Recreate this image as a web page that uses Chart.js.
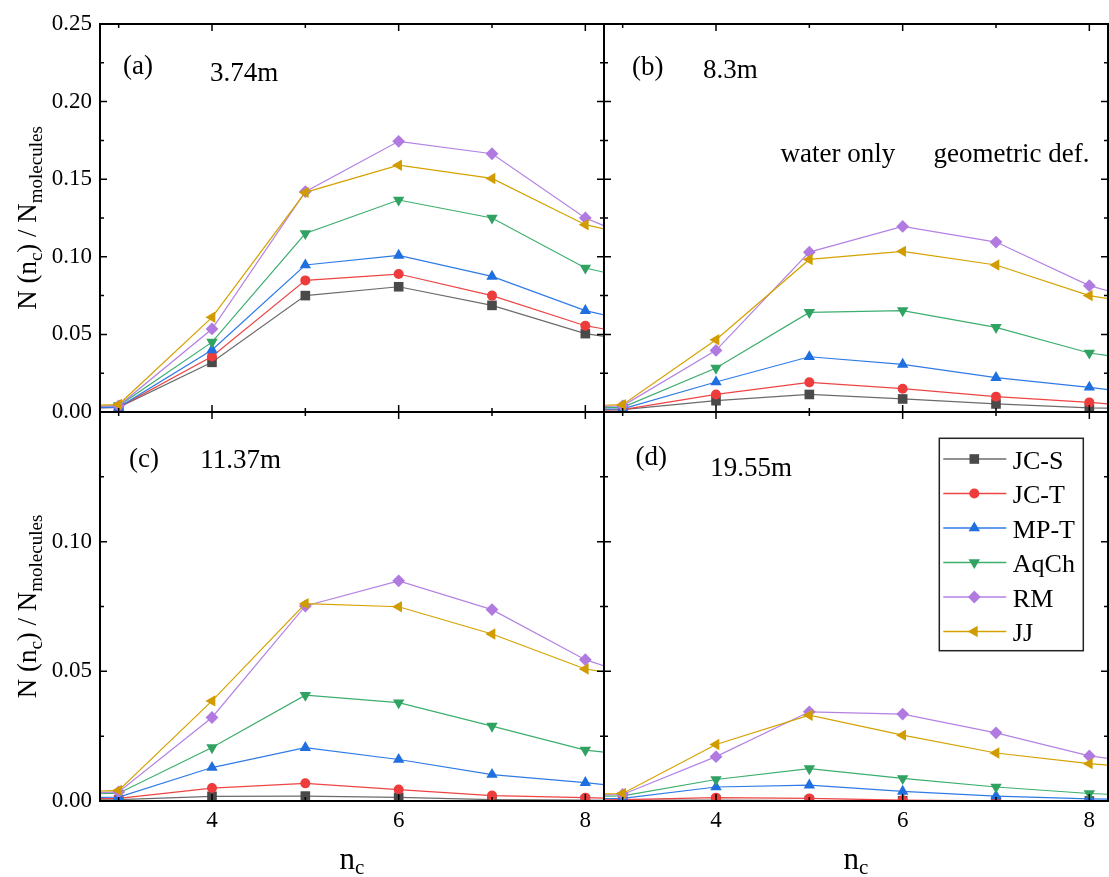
<!DOCTYPE html>
<html>
<head>
<meta charset="utf-8">
<script src="https://cdn.jsdelivr.net/npm/chart.js@4.4.1/dist/chart.umd.min.js"></script>
<style>
  body { margin: 0; background: #fff; }
  canvas { position: absolute; left: 0; top: 0; }
</style>
</head>
<body>
<canvas id="panelA" width="1109" height="877"></canvas>
<canvas id="panelB" width="1109" height="877"></canvas>
<canvas id="panelC" width="1109" height="877"></canvas>
<canvas id="panelD" width="1109" height="877"></canvas>
<script>
// cluster size n_c (2 and 9 fall just outside the visible range)
const ncValues = [2, 3, 4, 5, 6, 7, 8, 9];
const seriesNames = ["JC-S", "JC-T", "MP-T", "AqCh", "RM", "JJ"];

// one row per series, same order as seriesNames
const valuesA = [
  [0.002, 0.003, 0.032, 0.075, 0.0807, 0.0687, 0.0505, 0.0415],
  [0.002, 0.003, 0.0358, 0.0848, 0.0889, 0.075, 0.0556, 0.045],
  [0.002, 0.003, 0.040, 0.0947, 0.1009, 0.0874, 0.0653, 0.052],
  [0.002, 0.004, 0.045, 0.115, 0.1366, 0.125, 0.0928, 0.079],
  [0.002, 0.004, 0.0535, 0.142, 0.1744, 0.1664, 0.125, 0.100],
  [0.003, 0.0048, 0.061, 0.1415, 0.159, 0.1505, 0.1207, 0.107],
];
const valuesB = [
  [0.001, 0.0015, 0.0073, 0.0113, 0.0084, 0.0052, 0.0026, 0.002],
  [0.001, 0.0015, 0.0113, 0.0191, 0.015, 0.0099, 0.0062, 0.0017],
  [0.0015, 0.002, 0.0193, 0.0356, 0.0307, 0.0221, 0.0159, 0.0084],
  [0.002, 0.003, 0.0283, 0.0642, 0.0653, 0.0545, 0.038, 0.0295],
  [0.002, 0.004, 0.0397, 0.103, 0.1196, 0.1095, 0.0814, 0.065],
  [0.003, 0.0047, 0.0466, 0.0983, 0.1035, 0.0947, 0.075, 0.065],
];
const valuesC = [
  [0.0003, 0.0005, 0.0018, 0.0019, 0.0014, 0.0005, 0.0003, 0.0],
  [0.0005, 0.001, 0.005, 0.0068, 0.0044, 0.0021, 0.0013, 0.0003],
  [0.001, 0.0015, 0.0129, 0.0206, 0.016, 0.0102, 0.0071, 0.003],
  [0.002, 0.003, 0.0206, 0.0408, 0.0379, 0.0289, 0.0196, 0.016],
  [0.002, 0.0035, 0.0322, 0.0752, 0.0849, 0.0738, 0.0545, 0.0425],
  [0.0025, 0.0041, 0.0386, 0.0761, 0.0749, 0.0644, 0.0509, 0.0455],
];
const valuesD = [
  [0.0002, 0.0003, 0.0003, 0.0002, 0.0001, 0.0, 0.0, 0.0],
  [0.0003, 0.0005, 0.0013, 0.001, 0.0003, 0.0001, 0.0, 0.0],
  [0.0008, 0.001, 0.0054, 0.0061, 0.0037, 0.0019, 0.0008, 0.0004],
  [0.0015, 0.002, 0.0083, 0.0125, 0.0087, 0.0054, 0.0029, 0.0014],
  [0.002, 0.0025, 0.0171, 0.0344, 0.0335, 0.0263, 0.0174, 0.0124],
  [0.002, 0.0029, 0.0218, 0.0331, 0.0254, 0.0185, 0.0144, 0.0114],
];

const xTicks = [3, 4, 5, 6, 7, 8];
const xTickLabels = [4, 6, 8];
const yTicksTop = [0, 0.025, 0.05, 0.075, 0.1, 0.125, 0.15, 0.175, 0.2, 0.225, 0.25];
const yTicksBottom = [0, 0.025, 0.05, 0.075, 0.1, 0.125, 0.15];
const yTickLabelsTop = [0, 0.05, 0.1, 0.15, 0.2, 0.25];
const yTickLabelsBottom = [0, 0.05, 0.1];

const lineColors = ["#6b6b6b", "#ee4444", "#2f7be6", "#3cae6e", "#b482e4", "#d6a200"];
const markerColors = ["#4a4a4a", "#ee3b3b", "#1f6fe0", "#30a262", "#b07ae0", "#d09c00"];
const pointStyles = ["rect", "circle", "triangle", "triangle", "rectRot", "triangle"];
const pointRotations = [0, 0, 0, 180, 0, -90];
const pointSizes = [6.8, 5, 6.6, 6.6, 6.4, 6.6];

const W = 1109, H = 877;
const SERIF = "'Liberation Serif', 'Times New Roman', serif";

function isMultiple(v, step) {
  return Math.abs(v / step - Math.round(v / step)) < 1e-6;
}

// draw text made of pieces (main text + subscripts)
function drawRich(ctx, parts, x, y) {
  let total = 0;
  parts.forEach(p => {
    ctx.font = p.size + "px " + SERIF;
    p.w = ctx.measureText(p.t).width;
    total += p.w;
  });
  let cx = x - total / 2;
  parts.forEach(p => {
    ctx.font = p.size + "px " + SERIF;
    ctx.fillText(p.t, cx, y + (p.dy || 0));
    cx += p.w;
  });
}

// frame with inward ticks on all four sides
const framePlugin = {
  id: "frame",
  afterDraw(chart) {
    const { ctx, chartArea: a, scales: { x, y } } = chart;
    ctx.save();
    ctx.strokeStyle = "#000";
    ctx.lineWidth = 1.5;
    ctx.beginPath();
    x.ticks.forEach(t => {
      const px = x.getPixelForValue(t.value);
      const len = isMultiple(t.value, 2) ? 7 : 4;
      ctx.moveTo(px, a.bottom); ctx.lineTo(px, a.bottom - len);
      ctx.moveTo(px, a.top); ctx.lineTo(px, a.top + len);
    });
    y.ticks.forEach(t => {
      const py = y.getPixelForValue(t.value);
      const len = isMultiple(t.value, 0.05) ? 7 : 4;
      ctx.moveTo(a.left, py); ctx.lineTo(a.left + len, py);
      ctx.moveTo(a.right, py); ctx.lineTo(a.right - len, py);
    });
    ctx.stroke();
    ctx.lineWidth = 2;
    ctx.strokeRect(a.left, a.top, a.right - a.left, a.bottom - a.top);
    ctx.restore();
  }
};

// panel notes, axis titles and legend
const notesPlugin = {
  id: "notes",
  afterDraw(chart, args, opts) {
    const { ctx, chartArea: a } = chart;
    ctx.save();
    ctx.fillStyle = "#000";
    ctx.textBaseline = "alphabetic";
    ctx.textAlign = "left";
    ctx.font = "27px " + SERIF;
    (opts.notes || []).forEach(n => ctx.fillText(n.text, a.left + n.dx, a.top + n.dy));

    if (opts.yTitle) {
      ctx.save();
      ctx.translate(36, (a.top + a.bottom) / 2);
      ctx.rotate(-Math.PI / 2);
      drawRich(ctx, [
        { t: "N (n", size: 27 },
        { t: "c", size: 19, dy: 6 },
        { t: ") / N", size: 27 },
        { t: "molecules", size: 19, dy: 6 },
      ], 0, 0);
      ctx.restore();
    }
    if (opts.xTitle) {
      drawRich(ctx, [
        { t: "n", size: 31 },
        { t: "c", size: 21, dy: 5 },
      ], (a.left + a.right) / 2, 869);
    }
    if (opts.legend) {
      const L = opts.legend;
      ctx.strokeStyle = "#222";
      ctx.lineWidth = 1.5;
      ctx.strokeRect(a.left + L.dx, a.top + L.dy, L.w, L.h);
      chart.data.datasets.forEach((ds, i) => {
        const yy = a.top + L.first + i * L.step;
        const x0 = a.left + L.dx + 4;
        ctx.strokeStyle = ds.borderColor;
        ctx.lineWidth = 1.6;
        ctx.beginPath();
        ctx.moveTo(x0, yy);
        ctx.lineTo(x0 + 63, yy);
        ctx.stroke();
        ctx.fillStyle = ds.pointBackgroundColor;
        Chart.helpers.drawPoint(ctx, {
          pointStyle: ds.pointStyle, rotation: ds.pointRotation,
          radius: ds.pointRadius, borderWidth: 0
        }, x0 + 31, yy);
        ctx.fillStyle = "#000";
        ctx.font = "26px " + SERIF;
        ctx.fillText(ds.label, x0 + 69.5, yy + 9.5);
      });
    }
    ctx.restore();
  }
};

function makePanel(id, box, values, yMax, yTicks, yLabels, showX, extra) {
  // label-carrying axes get real room (labels are clipped to the axis box)
  const yWidth = yLabels ? box.l : 0;
  const xHeight = showX ? H - box.b : 0;
  return new Chart(document.getElementById(id), {
    type: "line",
    data: {
      datasets: seriesNames.map((name, i) => ({
        label: name,
        data: ncValues.map((n, j) => ({ x: n, y: values[i][j] })),
        borderColor: lineColors[i],
        borderWidth: 1.2,
        pointStyle: pointStyles[i],
        pointRotation: pointRotations[i],
        pointRadius: pointSizes[i],
        pointBackgroundColor: markerColors[i],
        pointBorderColor: markerColors[i],
        pointBorderWidth: 0,
        tension: 0,
        clip: 0,
        order: seriesNames.length - i,
      })),
    },
    options: {
      responsive: false,
      animation: false,
      events: [],
      layout: {
        autoPadding: false,
        padding: { left: box.l - yWidth, top: box.t, right: W - box.r, bottom: H - box.b - xHeight },
      },
      plugins: {
        legend: { display: false },
        tooltip: { enabled: false },
        notes: extra,
      },
      scales: {
        x: {
          type: "linear",
          min: 2.8,
          max: 8.2,
          afterBuildTicks: s => { s.ticks = xTicks.map(v => ({ value: v })); },
          afterFit: s => { s.height = xHeight; },
          grid: { display: false, drawTicks: false },
          border: { display: false },
          ticks: {
            display: showX,
            autoSkip: false,
            maxRotation: 0,
            padding: 6,
            color: "#000",
            font: { family: SERIF, size: 23 },
            callback: v => (xTickLabels.includes(v) ? String(v) : ""),
          },
        },
        y: {
          type: "linear",
          min: 0,
          max: yMax,
          afterBuildTicks: s => { s.ticks = yTicks.map(v => ({ value: v })); },
          afterFit: s => { s.width = yWidth; },
          grid: { display: false, drawTicks: false },
          border: { display: false },
          ticks: {
            display: !!yLabels,
            autoSkip: false,
            padding: 8,
            color: "#000",
            font: { family: SERIF, size: 23 },
            callback: v => (yLabels && yLabels.some(t => Math.abs(t - v) < 1e-9) ? v.toFixed(2) : ""),
          },
        },
      },
    },
    plugins: [framePlugin, notesPlugin],
  });
}

makePanel("panelA", { l: 100, t: 24, r: 604, b: 412 }, valuesA, 0.25, yTicksTop, yTickLabelsTop, false, {
  yTitle: true,
  notes: [{ text: "(a)", dx: 23, dy: 50 }, { text: "3.74m", dx: 110, dy: 57 }],
});
makePanel("panelB", { l: 604, t: 24, r: 1108, b: 412 }, valuesB, 0.25, yTicksTop, null, false, {
  notes: [
    { text: "(b)", dx: 28, dy: 51 },
    { text: "8.3m", dx: 99, dy: 54 },
    { text: "water only", dx: 176.5, dy: 137.5 },
    { text: "geometric def.", dx: 329.5, dy: 138 },
  ],
});
makePanel("panelC", { l: 100, t: 412, r: 604, b: 801 }, valuesC, 0.15, yTicksBottom, yTickLabelsBottom, true, {
  yTitle: true,
  xTitle: true,
  notes: [{ text: "(c)", dx: 29, dy: 55 }, { text: "11.37m", dx: 100.3, dy: 56 }],
});
makePanel("panelD", { l: 604, t: 412, r: 1108, b: 801 }, valuesD, 0.15, yTicksBottom, null, true, {
  xTitle: true,
  notes: [{ text: "(d)", dx: 31.5, dy: 53 }, { text: "19.55m", dx: 106.3, dy: 63.5 }],
  legend: { dx: 335.3, dy: 26.3, w: 144, h: 212.4, first: 47, step: 34.5 },
});
</script>
</body>
</html>
